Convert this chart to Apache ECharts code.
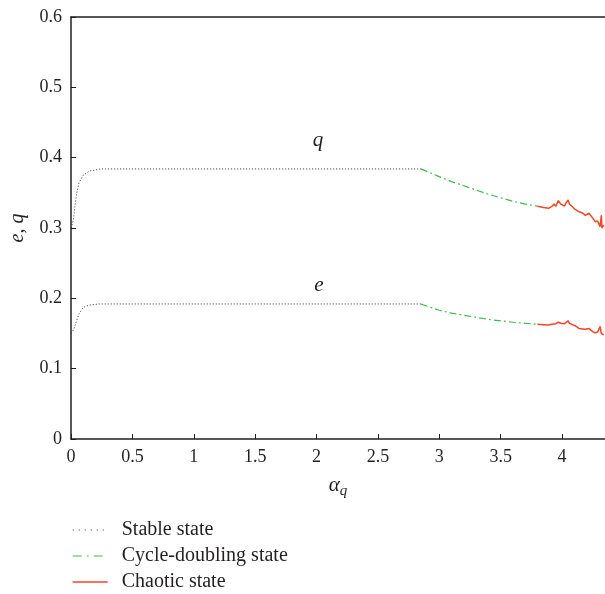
<!DOCTYPE html>
<html>
<head>
<meta charset="utf-8">
<script src="https://cdn.jsdelivr.net/npm/echarts@6/dist/echarts.min.js"></script>
<style>html,body{margin:0;padding:0;background:#fff;}#c{width:605px;height:594px;}</style>
</head>
<body>
<div id="c"></div>
<script>
// ---- data ----
var xStable = [0, 0.01, 0.02, 0.03, 0.045, 0.065, 0.1, 0.15, 0.24, 0.4, 1.0, 1.5, 2.0, 2.5, 2.85];
var qStable = [0.300, 0.305, 0.313, 0.328, 0.348, 0.364, 0.375, 0.381, 0.384, 0.384, 0.384, 0.384, 0.384, 0.384, 0.384];
var eStable = [0.150, 0.152, 0.155, 0.160, 0.168, 0.178, 0.187, 0.1905, 0.192, 0.192, 0.192, 0.192, 0.192, 0.192, 0.192];

var xCycle = [2.85, 3.0, 3.1, 3.2, 3.3, 3.4, 3.5, 3.6, 3.7, 3.8];
var qCycle = [0.384, 0.373, 0.366, 0.360, 0.354, 0.348, 0.343, 0.338, 0.334, 0.331];
var eCycle = [0.192, 0.183, 0.179, 0.176, 0.173, 0.170, 0.168, 0.166, 0.1645, 0.163];

var xChaos = [3.8, 3.85, 3.89, 3.92, 3.935, 3.95, 3.97, 3.99, 4.0, 4.02, 4.03, 4.05, 4.06, 4.08, 4.11, 4.14, 4.17, 4.19, 4.22, 4.25, 4.27, 4.29, 4.31, 4.32, 4.325, 4.34];
var qChaos = [0.331, 0.329, 0.328, 0.331, 0.334, 0.331, 0.339, 0.334, 0.336, 0.331, 0.335, 0.340, 0.334, 0.331, 0.326, 0.323, 0.321, 0.318, 0.321, 0.314, 0.309, 0.310, 0.302, 0.318, 0.300, 0.304];
var eChaos = [0.163, 0.1625, 0.162, 0.163, 0.1645, 0.164, 0.166, 0.1645, 0.1655, 0.164, 0.1645, 0.168, 0.1645, 0.163, 0.1607, 0.157, 0.1565, 0.156, 0.157, 0.1527, 0.151, 0.152, 0.160, 0.150, 0.149, 0.148];

var stateNames = ['Stable state', 'Cycle-doubling state', 'Chaotic state'];
var curveLabels = ['q', 'e'];

// ---- styling ----
var FONT = 'Liberation Serif';
var INK = '#231f20';
var C_STABLE = '#333333', C_CYCLE = '#3dbb4c', C_CHAOS = '#f2452a';
var styles = [
  {color: C_STABLE, width: 1, type: [1, 2]},
  {color: C_CYCLE, width: 1.2, type: [7, 3, 2, 3]},
  {color: C_CHAOS, width: 1.5, type: 'solid'}
];

function zip(xs, ys) { return xs.map(function (x, i) { return [x, ys[i]]; }); }

var groups = [
  [xStable, qStable, eStable],
  [xCycle, qCycle, eCycle],
  [xChaos, qChaos, eChaos]
];
var series = [];
groups.forEach(function (g, k) {
  [g[1], g[2]].forEach(function (ys) {
    series.push({
      name: stateNames[k],
      type: 'line',
      data: zip(g[0], ys),
      symbol: 'none',
      showSymbol: false,
      smooth: false,
      silent: true,
      lineStyle: styles[k],
      itemStyle: {color: styles[k].color}
    });
  });
});

var chart = echarts.init(document.getElementById('c'), null, {renderer: 'canvas'});
chart.setOption({
  animation: false,
  backgroundColor: '#fff',
  grid: {left: 71, right: 0, top: 17, bottom: 155},
  xAxis: [{
    type: 'value', min: 0, max: 4.35, interval: 0.5,
    name: '{a|α}{s|q}', nameLocation: 'middle', nameGap: 33,
    nameTextStyle: {rich: {
      a: {fontFamily: FONT, fontStyle: 'italic', fontSize: 21, color: INK},
      s: {fontFamily: FONT, fontStyle: 'italic', fontSize: 15, color: INK, verticalAlign: 'bottom', padding: [12, 0, 0, 0]}
    }},
    axisLine: {show: true, lineStyle: {color: INK, width: 1.5}},
    axisTick: {show: true, inside: true, length: 5, lineStyle: {color: INK, width: 1}},
    axisLabel: {showMaxLabel: false, fontFamily: FONT, fontSize: 18, color: INK, margin: 9},
    splitLine: {show: false}
  }, {
    type: 'value', min: 0, max: 4.35, position: 'top',
    axisLine: {show: true, onZero: false, lineStyle: {color: INK, width: 1.5}},
    axisTick: {show: false}, axisLabel: {show: false}, splitLine: {show: false}
  }],
  yAxis: {
    type: 'value', min: 0, max: 0.6, interval: 0.1,
    name: 'e, q', nameLocation: 'middle', nameRotate: 90, nameGap: 43,
    nameTextStyle: {fontFamily: FONT, fontStyle: 'italic', fontSize: 20, color: INK},
    axisLine: {show: true, lineStyle: {color: INK, width: 1.5}},
    axisTick: {show: true, inside: true, length: 5, lineStyle: {color: INK, width: 1}},
    axisLabel: {fontFamily: FONT, fontSize: 18, color: INK, margin: 9},
    splitLine: {show: false}
  },
  legend: {
    orient: 'vertical', left: 72, top: 520, padding: 0,
    itemWidth: 35, itemHeight: 14, itemGap: 6,
    itemStyle: {opacity: 0},
    textStyle: {fontFamily: FONT, fontSize: 20, lineHeight: 20, color: INK, padding: [0, 0, 0, 9]},
    data: [
      {name: stateNames[0], lineStyle: {color: C_STABLE, width: 1.2, type: [1, 5]}},
      {name: stateNames[1], lineStyle: {color: C_CYCLE, width: 1.2, type: [9, 5, 2, 5]}},
      {name: stateNames[2], lineStyle: {color: C_CHAOS, width: 1.4, type: 'solid'}}
    ]
  },
  graphic: [
    {type: 'text', x: 318, y: 140, style: {text: curveLabels[0], fontFamily: FONT, fontStyle: 'italic', fontSize: 21, fill: INK, align: 'center', verticalAlign: 'middle'}},
    {type: 'text', x: 319, y: 285, style: {text: curveLabels[1], fontFamily: FONT, fontStyle: 'italic', fontSize: 21, fill: INK, align: 'center', verticalAlign: 'middle'}}
  ],
  series: series
});
</script>
</body>
</html>
